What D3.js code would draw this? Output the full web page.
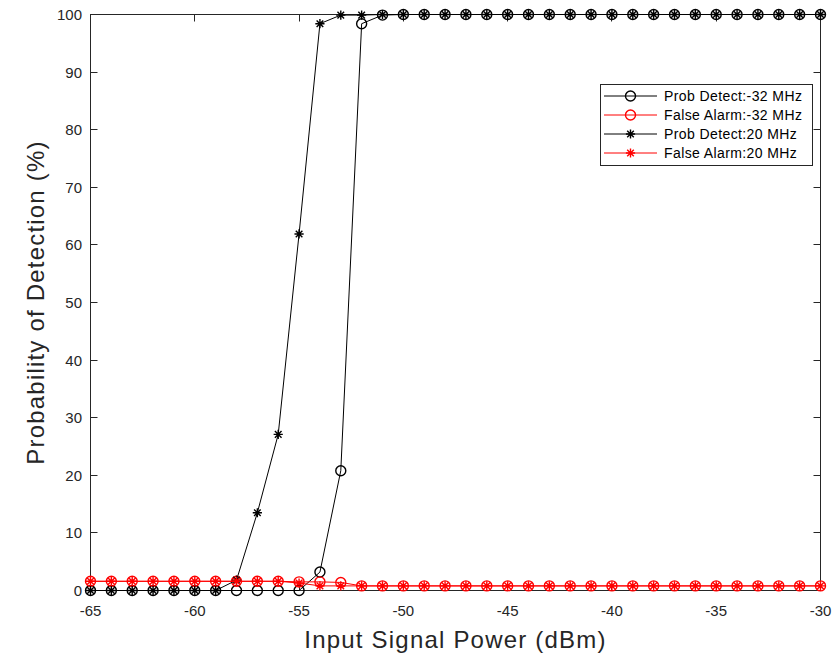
<!DOCTYPE html>
<html>
<head>
<meta charset="utf-8">
<script src="https://cdn.jsdelivr.net/npm/d3@7"></script>
<style>
    body { margin: 0; background: #fff; }
    svg { display: block; font-family: "Liberation Sans", Arial, sans-serif; }
</style>
</head>
<body>
<svg width="832" height="656"></svg>
<script>
    // input power (dBm)
    var power = [-65, -64, -63, -62, -61, -60, -59, -58, -57, -56, -55, -54,
        -53, -52, -51, -50, -49, -48, -47, -46, -45, -44, -43, -42, -41, -40,
        -39, -38, -37, -36, -35, -34, -33, -32, -31, -30];

    var probDetect32 = [0, 0, 0, 0, 0, 0, 0, 0, 0, 0, 0, 3.2,
        20.8, 98.4, 99.9, 100, 100, 100, 100, 100, 100, 100, 100, 100, 100, 100,
        100, 100, 100, 100, 100, 100, 100, 100, 100, 100];

    var falseAlarm32 = [1.6, 1.6, 1.6, 1.6, 1.6, 1.6, 1.6, 1.6, 1.6, 1.6, 1.5, 1.5,
        1.4, 0.8, 0.8, 0.8, 0.8, 0.8, 0.8, 0.8, 0.8, 0.8, 0.8, 0.8, 0.8, 0.8,
        0.8, 0.8, 0.8, 0.8, 0.8, 0.8, 0.8, 0.8, 0.8, 0.8];

    var probDetect20 = [0, 0, 0, 0, 0, 0, 0, 1.8, 13.5, 27.1, 61.9, 98.4,
        99.9, 99.9, 100, 100, 100, 100, 100, 100, 100, 100, 100, 100, 100, 100,
        100, 100, 100, 100, 100, 100, 100, 100, 100, 100];

    var falseAlarm20 = [1.6, 1.6, 1.6, 1.6, 1.6, 1.6, 1.6, 1.6, 1.6, 1.6, 1.3, 0.8,
        0.8, 0.8, 0.8, 0.8, 0.8, 0.8, 0.8, 0.8, 0.8, 0.8, 0.8, 0.8, 0.8, 0.8,
        0.8, 0.8, 0.8, 0.8, 0.8, 0.8, 0.8, 0.8, 0.8, 0.8];

    var xTicks = [-65, -60, -55, -50, -45, -40, -35, -30];
    var yTicks = [0, 10, 20, 30, 40, 50, 60, 70, 80, 90, 100];

    var series = [
        { name: 'Prob Detect:-32 MHz', values: probDetect32, color: '#000', marker: 'circle' },
        { name: 'False Alarm:-32 MHz', values: falseAlarm32, color: '#f00', marker: 'circle' },
        { name: 'Prob Detect:20 MHz', values: probDetect20, color: '#000', marker: 'star' },
        { name: 'False Alarm:20 MHz', values: falseAlarm20, color: '#f00', marker: 'star' }
    ];

    (function () {
        var axisColor = '#262626';
        var svg = d3.select('svg'),
            plotLeft = 90.5, plotRight = 820.5, plotTop = 14.5, plotBottom = 590.5;

        var x = d3.scaleLinear().domain([-65, -30]).range([plotLeft, plotRight]);
        var y = d3.scaleLinear().domain([0, 100]).range([plotBottom, plotTop]);

        // axes box
        svg.append('rect')
            .attr('x', plotLeft).attr('y', plotTop)
            .attr('width', plotRight - plotLeft).attr('height', plotBottom - plotTop)
            .attr('fill', 'none').attr('stroke', axisColor).attr('stroke-width', 1);

        var tickLen = 7;
        var ticks = svg.append('g').attr('stroke', axisColor).attr('stroke-width', 1);
        xTicks.forEach(function (t) {
            var px = Math.round(x(t) - 0.5) + 0.5;
            ticks.append('line').attr('x1', px).attr('x2', px).attr('y1', plotBottom).attr('y2', plotBottom - tickLen);
            ticks.append('line').attr('x1', px).attr('x2', px).attr('y1', plotTop).attr('y2', plotTop + tickLen);
        });
        yTicks.forEach(function (t) {
            var py = Math.round(y(t) - 0.5) + 0.5;
            ticks.append('line').attr('x1', plotLeft).attr('x2', plotLeft + tickLen).attr('y1', py).attr('y2', py);
            ticks.append('line').attr('x1', plotRight).attr('x2', plotRight - tickLen).attr('y1', py).attr('y2', py);
        });

        svg.append('g').selectAll('text')
            .data(xTicks)
            .enter().append('text')
            .attr('x', function (d) { return x(d); })
            .attr('y', 616)
            .attr('text-anchor', 'middle')
            .attr('font-size', 15)
            .attr('fill', axisColor)
            .text(function (d) { return d; });

        svg.append('g').selectAll('text')
            .data(yTicks)
            .enter().append('text')
            .attr('x', 82)
            .attr('y', function (d) { return y(d) + 5.5; })
            .attr('text-anchor', 'end')
            .attr('font-size', 15)
            .attr('fill', axisColor)
            .text(function (d) { return d; });

        svg.append('text')
            .attr('x', (plotLeft + plotRight) / 2)
            .attr('y', 648)
            .attr('text-anchor', 'middle')
            .attr('font-size', 24)
            .attr('letter-spacing', 1.2)
            .attr('fill', axisColor)
            .text('Input Signal Power (dBm)');

        svg.append('text')
            .attr('transform', 'translate(44,' + (plotTop + plotBottom) / 2 + ') rotate(-90)')
            .attr('text-anchor', 'middle')
            .attr('font-size', 24)
            .attr('letter-spacing', 1.2)
            .attr('fill', axisColor)
            .text('Probability of Detection (%)');

        function drawMarker(g, type, color, cx, cy) {
            if (type === 'circle') {
                g.append('circle')
                    .attr('cx', cx).attr('cy', cy).attr('r', 5)
                    .attr('fill', 'none').attr('stroke', color).attr('stroke-width', 1.4);
            } else {
                var r = 4.6, d = r * 0.72;
                var path = 'M' + (cx - r) + ',' + cy + 'H' + (cx + r) +
                    'M' + cx + ',' + (cy - r) + 'V' + (cy + r) +
                    'M' + (cx - d) + ',' + (cy - d) + 'L' + (cx + d) + ',' + (cy + d) +
                    'M' + (cx - d) + ',' + (cy + d) + 'L' + (cx + d) + ',' + (cy - d);
                g.append('path').attr('d', path)
                    .attr('fill', 'none').attr('stroke', color).attr('stroke-width', 1.4);
            }
        }

        var line = d3.line()
            .x(function (d, i) { return x(power[i]); })
            .y(function (d) { return y(d); });

        series.forEach(function (s) {
            var g = svg.append('g');
            g.append('path')
                .attr('d', line(s.values))
                .attr('fill', 'none')
                .attr('stroke', s.color)
                .attr('stroke-width', 1);
            s.values.forEach(function (v, i) {
                drawMarker(g, s.marker, s.color, x(power[i]), y(v));
            });
        });

        // legend
        var legend = svg.append('g');
        legend.append('rect')
            .attr('x', 600.5).attr('y', 84.5)
            .attr('width', 212).attr('height', 81)
            .attr('fill', '#fff').attr('stroke', axisColor).attr('stroke-width', 1);
        series.forEach(function (s, i) {
            var ly = 96 + i * 19;
            legend.append('line')
                .attr('x1', 604).attr('x2', 657)
                .attr('y1', ly).attr('y2', ly)
                .attr('stroke', s.color).attr('stroke-width', 1);
            drawMarker(legend, s.marker, s.color, 630.5, ly);
            legend.append('text')
                .attr('x', 664).attr('y', ly + 5)
                .attr('font-size', 14)
                .attr('letter-spacing', 0.4)
                .attr('fill', '#000')
                .text(s.name);
        });
    })();
</script>
</body>
</html>
